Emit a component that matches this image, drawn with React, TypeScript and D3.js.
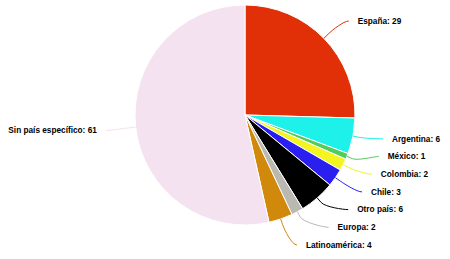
import React from 'react';
import * as d3 from 'd3';

const categories = ['España', 'Argentina', 'México', 'Colombia', 'Chile', 'Otro país', 'Europa', 'Latinoamérica', 'Sin país específico'];
const values = [29, 6, 1, 2, 3, 6, 2, 4, 61];
const colors = ['#e12f08', '#1ef0ea', '#52cc5c', '#f4f520', '#2b1ff0', '#000000', '#b9b9b2', '#d1890b', '#f4e2f1'];

const W = 450;
const H = 259;
const cx = 245;
const cy = 115;
const r = 110;
const labelDistance = 30;
const spacing = 17.7;
const minY = 21;
const maxY = 245;

type Item = { i: number; mid: number; right: boolean; natY: number; y: number };

function distribute(list: Item[]) {
  list.sort((a, b) => a.natY - b.natY);
  let prev = -Infinity;
  list.forEach((it) => {
    it.y = Math.max(it.natY, prev + spacing, minY);
    prev = it.y;
  });
  let next = Infinity;
  for (let k = list.length - 1; k >= 0; k--) {
    const it = list[k];
    it.y = Math.min(it.y, next - spacing, maxY);
    next = it.y;
  }
}

export default function App() {
  const pie = d3.pie<number>().sort(null).value((d) => d)(values);
  const arc = d3.arc<d3.PieArcDatum<number>>().innerRadius(0).outerRadius(r);
  const R = r + labelDistance;

  const items: Item[] = pie.map((p, i) => {
    const mid = (p.startAngle + p.endAngle) / 2;
    return { i, mid, right: mid < Math.PI, natY: cy - R * Math.cos(mid), y: 0 };
  });
  distribute(items.filter((d) => d.right));
  distribute(items.filter((d) => !d.right));

  return (
    <svg width={W} height={H} style={{ position: 'absolute', left: 0, top: 0, background: '#fff' }}>
      <g transform={`translate(${cx},${cy})`}>
        {pie.map((p, i) => (
          <path key={i} d={arc(p) || ''} fill={colors[i]} stroke="#fff" strokeWidth={1} strokeLinejoin="round" />
        ))}
      </g>
      {items.map((it) => {
        const sgn = it.right ? 1 : -1;
        const dy = it.y - cy;
        const dx = Math.sqrt(Math.max(0, R * R - dy * dy));
        const connX = cx + sgn * dx;
        const tx = cx + r * Math.sin(it.mid);
        const ty = cy - r * Math.cos(it.mid);
        const bx = cx + (r + 6) * Math.sin(it.mid);
        const by = cy - (r + 6) * Math.cos(it.mid);
        const path = `M${connX},${it.y} C${connX - sgn * 5},${it.y} ${2 * bx - tx},${2 * by - ty} ${bx},${by} L${tx},${ty}`;
        return (
          <g key={it.i}>
            <path d={path} fill="none" stroke={colors[it.i]} strokeWidth={1} />
            <text
              x={connX + sgn * 9}
              y={it.y}
              dy="0.35em"
              textAnchor={it.right ? 'start' : 'end'}
              fontFamily="'Liberation Sans', Arial, sans-serif"
              fontWeight="bold"
              fontSize={8.25}
              fill="#000"
              stroke="#fff"
              strokeWidth={1.5}
              paintOrder="stroke"
            >
              {`${categories[it.i]}: ${values[it.i]}`}
            </text>
          </g>
        );
      })}
    </svg>
  );
}
